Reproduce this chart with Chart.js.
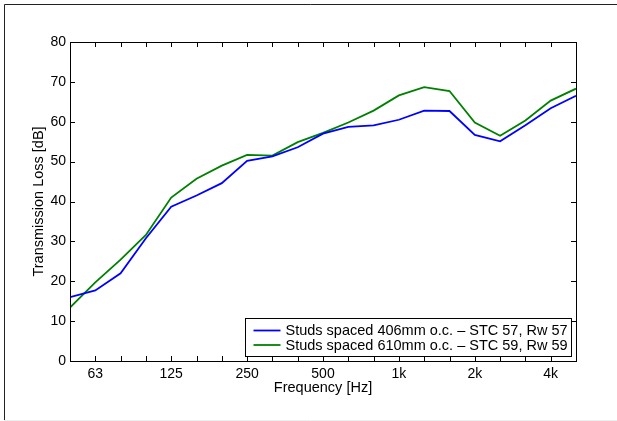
<!DOCTYPE html>
<html>
<head>
<meta charset="utf-8">
<script src="https://cdn.jsdelivr.net/npm/chart.js@4"></script>
<style>
  html, body { margin: 0; padding: 0; background: #fff; }
  canvas { display: block; }
</style>
</head>
<body>
<canvas id="myChart" width="617" height="421"></canvas>
<script>
// third-octave bands, 50 Hz .. 5 kHz
const bands = [50, 63, 80, 100, 125, 160, 200, 250, 315, 400, 500, 630, 800, 1000, 1250, 1600, 2000, 2500, 3150, 4000, 5000];
const tickLabels = {1: '63', 4: '125', 7: '250', 10: '500', 13: '1k', 16: '2k', 19: '4k'};

const studs406 = [16.0, 17.7, 22.0, 30.8, 38.7, 41.5, 44.6, 50.2, 51.3, 53.6, 57.0, 58.7, 59.1, 60.5, 62.8, 62.7, 56.7, 55.1, 59.1, 63.4, 66.5];
const studs610 = [13.4, 19.7, 25.4, 31.6, 41.0, 45.7, 49.0, 51.7, 51.5, 54.9, 57.2, 59.8, 62.8, 66.6, 68.7, 67.7, 59.8, 56.5, 60.3, 65.3, 68.3];

const labels406 = 'Studs spaced 406mm o.c. \u2013 STC 57, Rw 57';
const labels610 = 'Studs spaced 610mm o.c. \u2013 STC 59, Rw 59';

const FONT = '"Liberation Sans", Arial, Helvetica, sans-serif';

const toPoints = arr => arr.map((v, i) => ({x: i, y: v}));

// axes box, inward ticks, overlay legend and the figure frame
const matlabLook = {
    id: 'matlabLook',
    beforeDraw(chart) {
        const c = chart.ctx;
        c.save();
        c.fillStyle = '#fff';
        c.fillRect(0, 0, chart.width, chart.height);
        c.strokeStyle = '#222';
        c.lineWidth = 1;
        c.beginPath();
        c.moveTo(4.5, chart.height);
        c.lineTo(4.5, 4.5);
        c.lineTo(chart.width, 4.5);
        c.stroke();
        c.strokeStyle = '#eee';
        c.beginPath();
        c.moveTo(4, 420.5);
        c.lineTo(chart.width, 420.5);
        c.stroke();
        c.restore();
    },
    afterDatasetsDraw(chart) {
        const c = chart.ctx;
        const a = chart.chartArea;
        const xs = chart.scales.x, ys = chart.scales.y;
        c.save();
        c.strokeStyle = '#000';
        c.lineWidth = 1;
        c.beginPath();
        for (let i = 0; i < bands.length; i++) {
            const px = Math.round(xs.getPixelForValue(i)) + 0.5;
            c.moveTo(px, a.bottom); c.lineTo(px, a.bottom - 5);
            c.moveTo(px, a.top); c.lineTo(px, a.top + 5);
        }
        for (let v = 0; v <= 80; v += 10) {
            const py = Math.round(ys.getPixelForValue(v)) + 0.5;
            c.moveTo(a.left, py); c.lineTo(a.left + 5, py);
            c.moveTo(a.right, py); c.lineTo(a.right - 5, py);
        }
        c.stroke();
        c.strokeRect(Math.round(a.left) + 0.5, Math.round(a.top) + 0.5,
                     Math.round(a.right - a.left), Math.round(a.bottom - a.top));

        // legend
        c.font = '14.5px ' + FONT;
        const ds = chart.data.datasets;
        const textW = Math.max(...ds.map(d => c.measureText(d.label).width));
        const boxW = Math.round(40 + textW + 4);
        const rowH = 14.5;
        const boxH = 38;
        const bx = Math.round(a.right - 5 - boxW) + 0.5;
        const by = Math.round(a.bottom - 5 - boxH) + 0.5;
        c.fillStyle = '#fff';
        c.fillRect(bx, by, boxW, boxH);
        c.strokeRect(bx, by, boxW, boxH);
        c.textBaseline = 'middle';
        ds.forEach((d, i) => {
            const cy = by + 12 + i * rowH;
            c.strokeStyle = d.borderColor;
            c.lineWidth = 1.8;
            c.beginPath();
            c.moveTo(bx + 8, cy); c.lineTo(bx + 35, cy);
            c.stroke();
            c.fillStyle = '#000';
            c.fillText(d.label, bx + 40, cy + 0.5);
        });
        c.restore();
    }
};

const ctx = document.getElementById('myChart').getContext('2d');

new Chart(ctx, {
    type: 'line',
    data: {
        datasets: [
            {label: labels406, data: toPoints(studs406), borderColor: 'rgb(0,0,255)', borderWidth: 1.8, pointRadius: 0, tension: 0, fill: false},
            {label: labels610, data: toPoints(studs610), borderColor: 'rgb(0,128,0)', borderWidth: 1.8, pointRadius: 0, tension: 0, fill: false}
        ]
    },
    options: {
        responsive: false,
        animation: false,
        layout: {padding: {top: 42, right: 41, bottom: 0, left: 0}},
        plugins: {legend: {display: false}, tooltip: {enabled: false}},
        scales: {
            x: {
                type: 'linear',
                min: 0,
                max: bands.length - 1,
                afterFit(scale) { scale.height = 60; },
                grid: {display: false, drawTicks: false},
                border: {display: false},
                ticks: {
                    stepSize: 1,
                    autoSkip: false,
                    maxRotation: 0,
                    padding: 5,
                    color: '#000',
                    font: {family: FONT, size: 14},
                    callback: v => tickLabels[v] || ''
                },
                title: {
                    display: true,
                    text: 'Frequency [Hz]',
                    color: '#000',
                    font: {family: FONT, size: 14.5},
                    padding: {top: 0, bottom: 24}
                }
            },
            y: {
                min: 0,
                max: 80,
                afterFit(scale) { scale.width = 70; },
                grid: {display: false, drawTicks: false},
                border: {display: false},
                ticks: {
                    stepSize: 10,
                    padding: 4,
                    color: '#000',
                    font: {family: FONT, size: 14}
                },
                title: {
                    display: true,
                    text: 'Transmission Loss [dB]',
                    color: '#000',
                    font: {family: FONT, size: 14.5},
                    padding: {top: 30, bottom: 0}
                }
            }
        }
    },
    plugins: [matlabLook]
});
</script>
</body>
</html>
